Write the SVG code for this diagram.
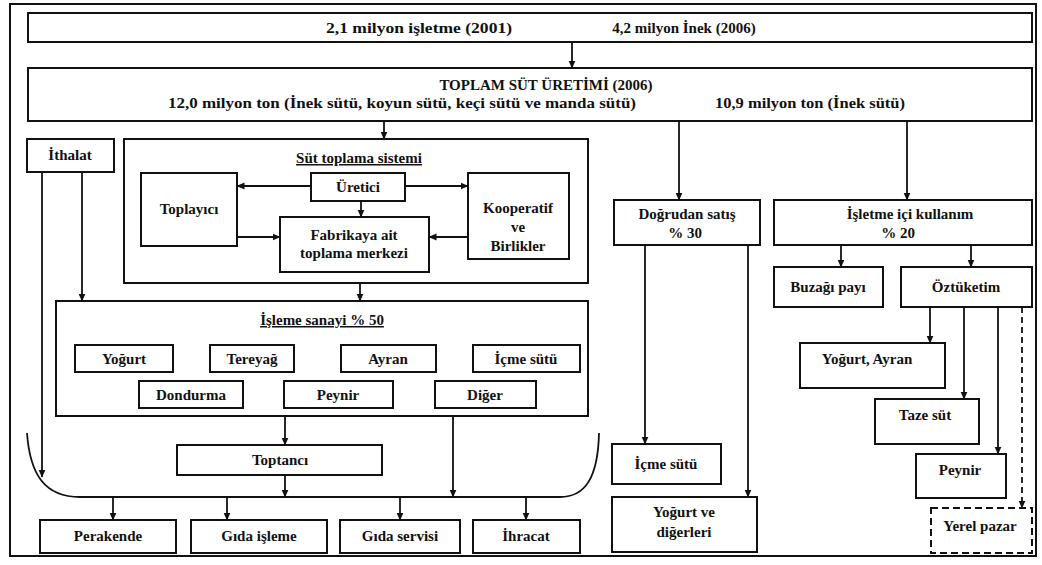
<svg xmlns="http://www.w3.org/2000/svg" width="1042" height="565" viewBox="0 0 1042 565">
<defs>
<style>
.b{fill:#fff;stroke:#111;stroke-width:2}
.d{fill:#fff;stroke:#111;stroke-width:2;stroke-dasharray:7 4}
.c{fill:none;stroke:#111;stroke-width:1.8}
.cd{fill:none;stroke:#111;stroke-width:1.8;stroke-dasharray:6 4}
text{font-family:"Liberation Serif","Times New Roman",serif;font-size:15px;font-weight:bold;fill:#111;text-anchor:middle}
.u{text-decoration:underline}
</style>
<marker id="a" viewBox="0 0 8 8" refX="7.5" refY="4" markerWidth="8" markerHeight="8" markerUnits="userSpaceOnUse" orient="auto">
<path d="M0,0.5 L8,4 L0,7.5 z" fill="#111"/>
</marker>
</defs>
<rect width="1042" height="565" fill="#fff"/>
<rect x="10" y="4" width="1026" height="552" fill="none" stroke="#111" stroke-width="2"/>

<g id="n-top"><rect class="b" x="28" y="13" width="1004" height="29"/>
<text x="419" y="33" textLength="186" lengthAdjust="spacingAndGlyphs">2,1 milyon işletme  (2001)</text>
<text x="684" y="33">4,2 milyon İnek (2006)</text></g>

<g id="n-total"><rect class="b" x="28" y="68" width="1004" height="53"/>
<text x="546" y="90">TOPLAM SÜT ÜRETİMİ (2006)</text>
<text x="168" y="108" style="text-anchor:start" textLength="468" lengthAdjust="spacingAndGlyphs">12,0 milyon ton (İnek sütü, koyun sütü, keçi sütü ve manda sütü)</text>
<text x="715" y="108" style="text-anchor:start" textLength="190" lengthAdjust="spacingAndGlyphs">10,9 milyon ton (İnek sütü)</text></g>

<g id="n-ithalat"><rect class="b" x="27" y="139" width="87" height="33"/><text x="70" y="160">İthalat</text></g>

<g id="n-sut-toplama"><rect class="b" x="124" y="139" width="464" height="144"/><text class="u" x="359" y="163">Süt toplama sistemi</text></g>
<g id="n-toplayici"><rect class="b" x="141" y="173" width="96" height="73"/><text x="189" y="214">Toplayıcı</text></g>
<g id="n-uretici"><rect class="b" x="311" y="173" width="94" height="28"/><text x="358" y="192">Üretici</text></g>
<g id="n-fabrika"><rect class="b" x="280" y="217" width="149" height="55"/><text x="354" y="240">Fabrikaya ait</text><text x="354" y="258">toplama merkezi</text></g>
<g id="n-kooperatif"><rect class="b" x="468" y="173" width="101" height="86"/><text x="518" y="213">Kooperatif</text><text x="518" y="232">ve</text><text x="518" y="251">Birlikler</text></g>

<g id="n-isleme"><rect class="b" x="56" y="301" width="532" height="115"/><text class="u" x="322" y="325">İşleme sanayi  % 50</text></g>
<g id="n-yogurt"><rect class="b" x="75" y="345" width="98" height="27"/><text x="124" y="364">Yoğurt</text></g>
<g id="n-tereyag"><rect class="b" x="210" y="345" width="84" height="27"/><text x="252" y="364">Tereyağ</text></g>
<g id="n-ayran"><rect class="b" x="341" y="345" width="95" height="27"/><text x="388" y="364">Ayran</text></g>
<g id="n-icme"><rect class="b" x="473" y="345" width="107" height="27"/><text x="526" y="364">İçme sütü</text></g>
<g id="n-dondurma"><rect class="b" x="139" y="381" width="104" height="27"/><text x="191" y="400">Dondurma</text></g>
<g id="n-peynir"><rect class="b" x="284" y="381" width="109" height="27"/><text x="338" y="400">Peynir</text></g>
<g id="n-diger"><rect class="b" x="435" y="381" width="101" height="27"/><text x="485" y="400">Diğer</text></g>

<g id="n-toptanci"><rect class="b" x="177" y="445" width="205" height="30"/><text x="280" y="465">Toptancı</text></g>

<g id="n-perakende"><rect class="b" x="40" y="520" width="136" height="33"/><text x="108" y="541">Perakende</text></g>
<g id="n-gida-isleme"><rect class="b" x="191" y="520" width="136" height="33"/><text x="259" y="541">Gıda işleme</text></g>
<g id="n-gida-servisi"><rect class="b" x="340" y="520" width="120" height="33"/><text x="400" y="541">Gıda servisi</text></g>
<g id="n-ihracat"><rect class="b" x="473" y="520" width="107" height="33"/><text x="526" y="541">İhracat</text></g>

<g id="n-dogrudan"><rect class="b" x="614" y="200" width="146" height="45"/><text x="687" y="219">Doğrudan satış</text><text x="685" y="238">% 30</text></g>
<g id="n-icme-sutu2"><rect class="b" x="612" y="444" width="109" height="40"/><text x="666" y="469">İçme sütü</text></g>
<g id="n-yogurt-diger"><rect class="b" x="612" y="497" width="145" height="55"/><text x="684" y="517">Yoğurt ve</text><text x="684" y="537">diğerleri</text></g>

<g id="n-isletme"><rect class="b" x="774" y="200" width="258" height="45"/><text x="910" y="219">İşletme içi kullanım</text><text x="898" y="238">% 20</text></g>
<g id="n-buzagi"><rect class="b" x="774" y="267" width="109" height="40"/><text x="828" y="292">Buzağı payı</text></g>
<g id="n-oztuketim"><rect class="b" x="901" y="267" width="131" height="40"/><text x="966" y="292">Öztüketim</text></g>
<g id="n-yogurt-ayran"><rect class="b" x="800" y="343" width="145" height="45"/><text x="867" y="364">Yoğurt, Ayran</text></g>
<g id="n-taze"><rect class="b" x="875" y="399" width="104" height="45"/><text x="925" y="420">Taze süt</text></g>
<g id="n-peynir2"><rect class="b" x="916" y="454" width="90" height="44"/><text x="960" y="475">Peynir</text></g>
<g id="n-yerel"><rect class="d" x="931" y="508" width="101" height="45"/><text x="980" y="531">Yerel pazar</text></g>

<g id="connectors">
<path class="c" d="M572,42 V68" marker-end="url(#a)"/>
<path class="c" d="M384,121 V139" marker-end="url(#a)"/>
<path class="c" d="M679,121 V200" marker-end="url(#a)"/>
<path class="c" d="M907,121 V200" marker-end="url(#a)"/>
<path class="c" d="M311,186 H237" marker-end="url(#a)"/>
<path class="c" d="M405,186 H468" marker-end="url(#a)"/>
<path class="c" d="M361,201 V217" marker-end="url(#a)"/>
<path class="c" d="M237,237 H280" marker-end="url(#a)"/>
<path class="c" d="M468,237 H429" marker-end="url(#a)"/>
<path class="c" d="M360,283 V301" marker-end="url(#a)"/>
<path class="c" d="M82,172 V301" marker-end="url(#a)"/>
<path class="c" d="M42,172 V477" marker-end="url(#a)"/>
<path class="c" d="M27,433 C30,475 45,497 80,497 L560,497 C585,497 598,478 599,433"/>
<path class="c" d="M285,416 V445" marker-end="url(#a)"/>
<path class="c" d="M285,475 V497" marker-end="url(#a)"/>
<path class="c" d="M453,416 V497" marker-end="url(#a)"/>
<path class="c" d="M113,497 V520" marker-end="url(#a)"/>
<path class="c" d="M227,497 V520" marker-end="url(#a)"/>
<path class="c" d="M400,497 V520" marker-end="url(#a)"/>
<path class="c" d="M526,497 V520" marker-end="url(#a)"/>
<path class="c" d="M645,245 V444" marker-end="url(#a)"/>
<path class="c" d="M748,245 V497" marker-end="url(#a)"/>
<path class="c" d="M841,245 V267" marker-end="url(#a)"/>
<path class="c" d="M971,245 V267" marker-end="url(#a)"/>
<path class="c" d="M930,307 V343" marker-end="url(#a)"/>
<path class="c" d="M964,307 V399" marker-end="url(#a)"/>
<path class="c" d="M998,307 V454" marker-end="url(#a)"/>
<path class="cd" d="M1022,307 V508" marker-end="url(#a)"/>
</g>
</svg>
